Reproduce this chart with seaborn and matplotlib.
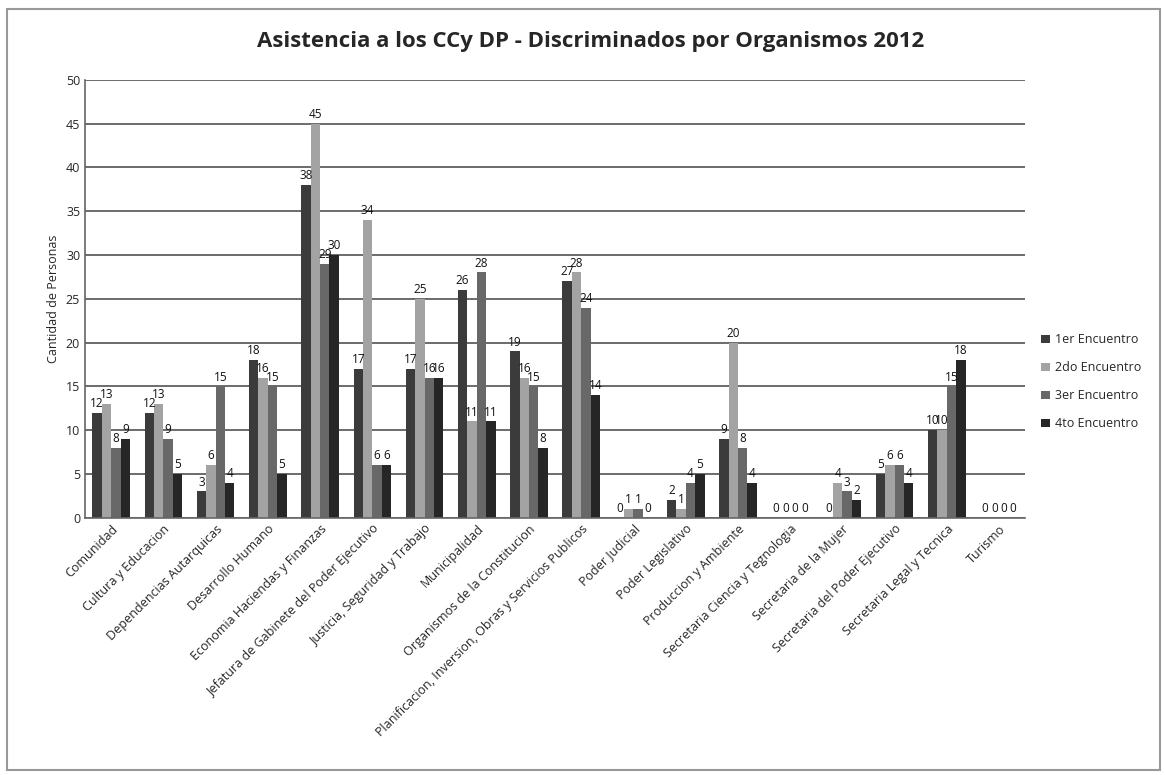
import pandas as pd
import matplotlib
matplotlib.use("Agg")
import matplotlib.pyplot as plt
import seaborn as sns

# ─── Data ───────────────────────────────────────────────────────────────────
organismos = [
    "Comunidad", "Cultura y Educacion", "Dependencias Autarquicas",
    "Desarrollo Humano", "Economia Haciendas y Finanzas",
    "Jefatura de Gabinete del Poder Ejecutivo", "Justicia, Seguridad y Trabajo",
    "Municipalidad", "Organismos de la Constitucion",
    "Planificacion, Inversion, Obras y Servicios Publicos", "Poder Judicial",
    "Poder Legislativo", "Produccion y Ambiente",
    "Secretaria Ciencia y Tegnologia", "Secretaria de la Mujer",
    "Secretaria del Poder Ejecutivo", "Secretaria Legal y Tecnica", "Turismo",
]
encuentros = ["1er Encuentro", "2do Encuentro", "3er Encuentro", "4to Encuentro"]

enc_1 = [12, 12, 3, 18, 38, 17, 17, 26, 19, 27, 0, 2, 9, 0, 0, 5, 10, 0]
enc_2 = [13, 13, 6, 16, 45, 34, 25, 11, 16, 28, 1, 1, 20, 0, 4, 6, 10, 0]
enc_3 = [8, 9, 15, 15, 29, 6, 16, 28, 15, 24, 1, 4, 8, 0, 3, 6, 15, 0]
enc_4 = [9, 5, 4, 5, 30, 6, 16, 11, 8, 14, 0, 5, 4, 0, 2, 4, 18, 0]

colores = ["#3b3b3b", "#a3a3a3", "#686868", "#262626"]

df = pd.DataFrame({
    "Organismo": organismos * 4,
    "Encuentro": [e for e in encuentros for _ in organismos],
    "Cantidad": enc_1 + enc_2 + enc_3 + enc_4,
})

# ─── Plot ───────────────────────────────────────────────────────────────────
sns.set_style("white")
plt.rcParams["font.family"] = ["Open Sans", "DejaVu Sans"]

fig = plt.figure(figsize=(11.65, 7.75), dpi=100)
ax = fig.add_axes([0.073, 0.332, 0.807, 0.565])

sns.barplot(data=df, x="Organismo", y="Cantidad", hue="Encuentro",
            palette=colores, width=0.72, gap=0, saturation=1,
            edgecolor="none", ax=ax)

for cont in ax.containers:
    ax.bar_label(cont, fontsize=8.5, padding=2, color="#111111")

ax.set_ylim(0, 50)
ax.set_yticks(range(0, 51, 5))
ax.set_xlim(-0.5, len(organismos) - 0.5)
ax.yaxis.grid(True, color="#444444", linewidth=1.1)
ax.set_axisbelow(True)
for s in ["top", "right"]:
    ax.spines[s].set_visible(False)
for s in ["left", "bottom"]:
    ax.spines[s].set_color("#666666")
    ax.spines[s].set_linewidth(1.2)

ax.set_xlabel("")
ax.set_ylabel("Cantidad de Personas", fontsize=9)
ax.tick_params(axis="y", labelsize=9, length=0)
ax.tick_params(axis="x", length=0)
plt.setp(ax.get_xticklabels(), rotation=45, ha="right",
         rotation_mode="anchor", fontsize=9)

fig.suptitle("Asistencia a los CCy DP - Discriminados por Organismos 2012",
             x=0.507, y=0.96, fontsize=16, fontweight="bold")

ax.legend(loc="center left", bbox_to_anchor=(1.005, 0.31), frameon=False,
          fontsize=9, handlelength=0.7, handleheight=0.7, handletextpad=0.4,
          labelspacing=1.2)

# thin frame around the whole figure, like the screenshot
fig.patches.append(plt.Rectangle((0.006, 0.006), 0.99, 0.982,
                                 transform=fig.transFigure, fill=False,
                                 edgecolor="#999999", linewidth=1.5))

fig.savefig("out.png", dpi=100)
